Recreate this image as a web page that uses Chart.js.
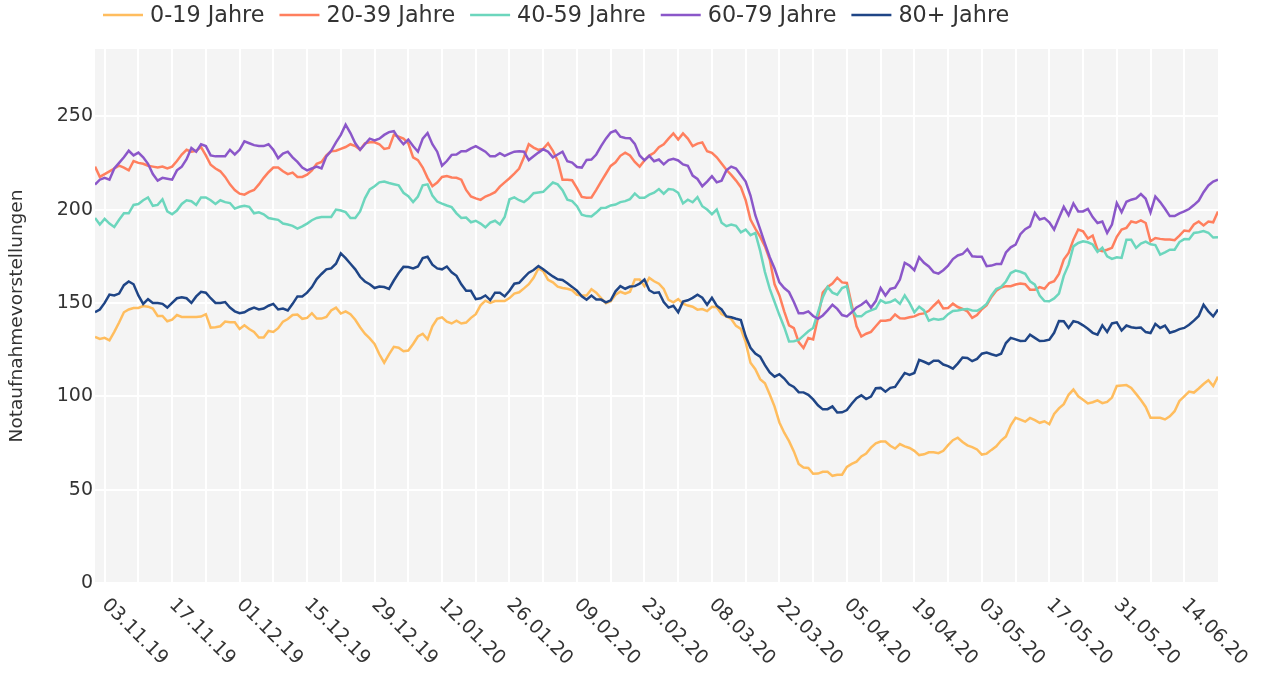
<!DOCTYPE html>
<html><head><meta charset="utf-8">
<script src="https://cdn.jsdelivr.net/npm/chart.js@4.4.1/dist/chart.umd.min.js"></script>
<style>html,body{margin:0;padding:0;background:#fff;}</style>
</head><body>
<canvas id="c" width="1261" height="675"></canvas>
<script>
// ---- data (daily values, first day = 01.11.2019, index 0) ----
const seriesLabels = ['0-19 Jahre','20-39 Jahre','40-59 Jahre','60-79 Jahre','80+ Jahre'];
const seriesColors = ['#ffbd5e','#ff7f5e','#6cd6bd','#8b57c9','#1f4586'];

const jahre0_19 = [131.8,130.7,131.3,130,134.5,139.5,145,146.5,147.3,147.3,
148.3,148,147,143,143,140.2,141,143.5,142.5,142.5,
142.5,142.5,142.7,144,136.8,137,137.5,140,139.6,139.6,
136,138,136,134.5,131.5,131.5,135,134.5,136.5,140,
141.4,143.5,143.8,141.5,142,144.5,141.6,141.6,142.5,146,
147.5,144.3,145.5,144,141,137,133.5,131,128,122.5,
118,122.5,126.5,126,124.1,124.5,128,132,133.5,130.5,
137.5,141.5,142.3,140,139,140.5,139,139.5,142,144,
148.7,151.2,150,151,151,151,152.6,155,155.7,157.8,
160,163.5,168.5,167,162.4,161,158.7,158,157.6,156.8,
154.4,154,154,157.3,155.5,152.6,149.8,150.9,154.4,156,
155,156,162.5,162.5,158.9,163.4,161.6,160.3,157.5,151.6,
150.3,152,149.6,148.6,148,146.4,146.7,145.6,147.9,147.7,
144,142.8,141.4,137.7,136.1,129,118,114.5,109.2,107,
101,94.5,86,80.5,76,70.5,63.7,61.8,61.6,58.5,
58.6,59.6,59.6,57.4,58,58,62.2,63.8,65,67.8,
69.3,72.5,74.8,75.8,75.8,73.5,72,74.4,73.2,72.3,
70.8,68.5,68.9,70,70,69.5,70.8,73.8,76.5,77.8,
75.5,73.7,72.8,71.5,68.8,69.3,71.3,73.2,76.3,78.5,
84.5,88.5,87.5,86.4,
88.4,87.2,85.8,86.6,85,90.5,93.5,95.8,100.8,103.6,
100,98.2,96.2,96.8,97.8,96.3,97,99.3,105.5,105.8,
106,104.5,101.3,98,94.3,88.5,88.5,88.5,87.6,89.3,
92,97.5,100,102.5,102,104.2,106.6,108.6,105.5,110.5];

const jahre20_39 = [223,217.5,219,220.5,222,223.5,222.5,221,226,225,
224.5,223.5,223,222.5,223,222,223,226,229.5,232,
231,231.5,233.5,229,224,222,220.5,217.5,213.5,210.5,
208.5,208,209.5,210.5,213.5,217,220,222.5,222.5,220.5,
219,219.8,217.5,217.5,218.7,221,224.5,225.5,229,231.2,
231.5,232.5,233.5,235,234,232,235.5,236,236,235,
232.5,233,240,239,238,235.5,228,226.5,222.5,217,
212.5,214.5,217.5,218,217.2,217,216,210.5,207,206,
205.2,207,208,209.3,212.3,214.6,216.8,219.3,222,228,
235,233.2,232,232.5,235.5,231.5,226,216,216,215.7,
211.5,206.8,206.3,206.5,210.5,215,219.2,223.4,225.3,228.8,
230.5,229,225.5,223,226.3,228.9,230.4,233.4,235,238,
240.8,237.5,240.8,238,234,235.3,236,231.2,230.4,228,
224.7,221.3,218.6,215.5,212,205,194.6,189.8,185.5,180.3,
173.2,160,154,145.5,138,136.5,129,125.9,131.2,130.5,
142,155.5,158.6,160.4,163.5,161,160.7,149,137.5,132,
133.5,134.5,137.5,140.5,140.5,141,143.8,141.8,141.7,142.3,
142.8,144,144.4,145.8,148.5,151,147,147.3,149.6,147.8,
146.8,145.5,142,143.5,146.6,148.8,153.2,156.5,158.3,159,
159,159.9,160.4,160,
157.1,157.1,158.5,157.6,160.7,161.6,165.5,173.2,176.8,183.9,
189.3,188.4,184.5,186.1,178.5,177.7,178.5,179.5,185.4,189.3,
190.2,193.6,193,194.2,192.8,183,184.8,184.3,184,184,
183.6,186,188.8,188.4,192,193.6,191.5,193.6,193.2,199];

const jahre40_59 = [195.5,192,195,192.5,190.7,194.5,198,198,202.5,203,
205,206.5,202,202.5,205.5,199,197.5,199.5,203,205,
204.5,202.5,206.5,206.5,205,203,205,204,203.5,200.5,
201.5,202,201.5,198,198.5,197.5,195.5,195,194.5,192.5,
192,191.3,189.8,191,192.5,194.3,195.5,196,196,196,
200,199.5,198.6,195.5,195.5,199,206,210.8,212.5,214.6,
215,214.2,213.6,213,209,207.2,204,207,213,213.5,
207.5,204.3,203.2,202.2,201.3,198,195.5,195.7,193.2,194,
192.5,190.5,193,194,192,196,205.5,206.5,205,204,
206,208.8,209.2,209.5,212,214.5,213.5,210.4,205.3,204.5,
201.8,197.2,196.5,196.3,198.4,200.8,201,202.2,202.7,204,
204.5,205.6,208.6,206.3,206.3,208,209,211,208.5,211,
210.7,209,203.3,205.3,203.9,206.7,201.8,200,197.5,200,
193,191.1,192,191.3,187.8,189.3,186.3,187.5,178,166.5,
157.5,150.5,143.5,137,129.4,129.5,130.2,132.5,134.8,136.6,
145,153,158.6,155.5,154.4,158,159,147,142.8,142.8,
145,146,147,151.5,150,150.5,151.8,149.5,154,150,
145,148,146,140.5,141.5,141,141.5,144,145.7,146,
146.5,146.8,146,145.8,147.3,149.5,154,157.5,158.6,161.5,
166,167.3,166.7,165.6,
161.6,159.8,154,151,150.9,152.4,155,164.5,170.5,180.3,
182.1,183,182.5,181.3,177.3,179.6,175,173.6,174.4,174.1,
183.8,183.8,179.5,181.8,182.8,181.4,181,175.9,177.1,178.5,
178.5,182.6,184.2,184.1,187.5,187.9,188.5,187.6,185,185.2];

const jahre60_79 = [213.4,216,217,216,222,225,228,231.5,229,230.5,
228,224.5,219,215.5,217,216.5,216,221,223,227,
233,231,235,234,229,228.5,228.5,228.5,232,229.5,
232,236.5,235.5,234.5,234,234,235,232,227.5,230,
231,228,225.5,222.5,221,222,223,222,228.5,231.5,
236,240,245.5,241,235.5,232,235,238,237,238,
240,241.5,242,238,235,237.5,234,231,238,241,
235,231,223.5,226,229.3,229.5,231.3,231.3,232.8,234,
232.5,231,228.5,228.5,230.2,228.8,230,231,231.2,231,
226.5,228.5,230.5,232.3,231,228,229.5,231,225.9,225.2,
222.8,222.5,226.6,226.8,229.5,234,238,241.3,242.3,239,
238.3,238.2,235.2,229,226.4,228.8,225.9,226.8,224.2,226.5,
227.2,226.3,224.2,223.5,218.2,216.4,212.5,215,217.9,214.6,
215.5,221,223,222,218.5,215,207.5,197,189.5,181.8,
174.5,168.4,161,158,155.8,150.5,144.5,144.5,145.5,143,
141.5,143.3,146,149,146.8,143.5,142.8,145,147.6,149,
151,147.5,151,158,154,157.5,158.2,162.5,171.5,170,
167.5,174.5,171.5,169.5,166.5,165.7,167.5,170,173.5,175.4,
176.2,178.8,175,174.8,174.8,169.7,170,170.8,170.8,177,
179.8,181.2,186.8,189.5,
191,198.2,194.7,195.4,193.2,189.3,195.5,201.5,197,203.3,
199,199,200.4,196,192.8,193.6,187.5,192,203.5,198.6,
204.2,205.3,206,208.3,205.8,198.5,207,204,200.4,196.5,
196.5,198,199,200.3,202.4,204.8,209.3,212.9,215,216];

const jahre80plus = [145,146.5,150,154.5,154,155,159.5,161.5,160,154,
149.5,152,150,150,149.5,147.5,150,152.5,153,152.5,
150,153.5,156,155.5,152.5,150,150,150.5,147.5,145.5,
144.5,145,146.5,147.5,146.5,147,148.5,149.5,146.5,147,
146,149.5,153.5,153.5,155.5,158.5,162.8,165.5,168,168.5,
171,176.5,174,171,168,164,161.5,160,158,158.8,
158.5,157.5,162,166,169.3,169.2,168.5,169.5,174,174.7,
170.5,168.5,168,169.5,166.4,164.5,160,156.5,156.5,152,
152.5,154,151.5,155.5,155.5,153.5,156.5,160.3,160.8,163.6,
166.2,167.6,169.7,168,166,164.2,162.7,162.3,160.5,158.6,
156.6,153.6,151.7,153.9,151.8,151.8,150.3,151.4,156.2,159,
157.6,158.8,159,160.3,162.5,156.8,155.3,155.7,150.5,147.5,
148.5,145,150.7,151.4,152.7,154.4,152.8,149,152.7,148.5,
146.5,142.8,142.3,141.5,140.8,132.1,126,122.9,121.2,116.7,
112.8,110.5,111.8,109.5,106.4,105,102.2,102.1,100.8,98.3,
95.2,93,93.1,94.6,91.3,91.4,92.6,96,99,100.5,
98.5,99.8,104.3,104.5,102.5,104.5,105,108.8,112.5,111.5,
112.5,119.5,118.5,117.3,119,119,117,116.2,114.8,117.5,
120.8,120.5,118.8,120,122.8,123.4,122.5,121.8,122.8,128.5,
131.3,130.5,129.6,129.7,
133,131.3,129.6,129.7,130.3,134,140.3,140.2,136.6,140.2,
139.6,138,136.2,134,133,138,134.5,139,139.6,135.2,
137.9,137,136.6,136.8,134.4,133.9,138.8,136.6,137.9,134,
134.8,136,136.6,138.3,140.5,143,149,145.5,142.8,146.5];

const yTickValues = [0, 50, 100, 150, 200, 250];
const xTickLabels = ['03.11.19','17.11.19','01.12.19','15.12.19','29.12.19','12.01.20','26.01.20','09.02.20','23.02.20','08.03.20','22.03.20','05.04.20','19.04.20','03.05.20','17.05.20','31.05.20','14.06.20'];
const xTickDays = [2,16,30,44,58,72,86,100,114,128,142,156,170,184,198,212,226];
const lastDay = 233;
const yMax = 286;

// ---- chart ----
const allSeries = [jahre0_19, jahre20_39, jahre40_59, jahre60_79, jahre80plus];
const FONT = '"DejaVu Sans", Verdana, sans-serif';
const TXT = '#333333';

const weeklyGrid = [];
for (let d = xTickDays[0]; d <= xTickDays[xTickDays.length-1]; d += 7) weeklyGrid.push(d);

const datasets = allSeries.map((s, k) => ({
  label: seriesLabels[k],
  data: s.map((v, i) => ({x: i, y: v})),
  borderColor: seriesColors[k],
  backgroundColor: seriesColors[k],
  borderWidth: 2.5,
  pointRadius: 0,
  tension: 0,
  fill: false,
  order: allSeries.length - k
}));

const bgPlugin = {
  id: 'plotBg',
  beforeDraw(chart) {
    const {ctx, chartArea: a} = chart;
    ctx.save();
    ctx.fillStyle = '#f4f4f4';
    ctx.fillRect(a.left, a.top, a.right - a.left, a.bottom - a.top);
    ctx.restore();
  }
};

const xLabelPlugin = {
  id: 'xLabels',
  afterDraw(chart) {
    const {ctx, chartArea: a} = chart;
    const xs = chart.scales.x;
    ctx.save();
    ctx.font = '19px ' + FONT;
    ctx.fillStyle = TXT;
    ctx.textAlign = 'left';
    ctx.textBaseline = 'middle';
    xTickDays.forEach((d, k) => {
      const px = xs.getPixelForValue(d);
      ctx.save();
      ctx.translate(px, a.bottom + 19);
      ctx.rotate(Math.PI / 4);
      ctx.fillText(xTickLabels[k], 0, 0);
      ctx.restore();
    });
    ctx.restore();
  }
};

const legendPlugin = {
  id: 'topLegend',
  afterDraw(chart) {
    const ctx = chart.ctx;
    ctx.save();
    ctx.font = '22.3px ' + FONT;
    ctx.textAlign = 'left';
    ctx.textBaseline = 'middle';
    let x = 103;
    const y = 15;
    chart.data.datasets.forEach(ds => {
      ctx.strokeStyle = ds.borderColor;
      ctx.lineWidth = 2.5;
      ctx.beginPath();
      ctx.moveTo(x, y);
      ctx.lineTo(x + 40, y);
      ctx.stroke();
      ctx.fillStyle = TXT;
      ctx.fillText(ds.label, x + 47, y + 1);
      x += 47 + ctx.measureText(ds.label).width + 15;
    });
    ctx.restore();
  }
};

new Chart(document.getElementById('c'), {
  type: 'line',
  data: {datasets},
  options: {
    responsive: false,
    animation: false,
    devicePixelRatio: 1,
    layout: {padding: {top: 49, right: 43, left: 0, bottom: 0}},
    plugins: {legend: {display: false}, tooltip: {enabled: false}},
    scales: {
      x: {
        type: 'linear',
        min: 0,
        max: lastDay,
        afterBuildTicks(scale) { scale.ticks = weeklyGrid.map(v => ({value: v})); },
        afterFit(scale) { scale.height = 675 - 583; },
        grid: {color: '#ffffff', lineWidth: 2, drawTicks: false},
        border: {display: false},
        ticks: {display: false}
      },
      y: {
        type: 'linear',
        min: 0,
        max: yMax,
        afterBuildTicks(scale) { scale.ticks = yTickValues.map(v => ({value: v})); },
        afterFit(scale) { scale.width = 95; },
        grid: {color: '#ffffff', lineWidth: 2, drawTicks: false},
        border: {display: false},
        ticks: {font: {family: FONT, size: 19}, color: TXT, padding: 2},
        title: {display: true, text: 'Notaufnahmevorstellungen', font: {family: FONT, size: 18.5}, color: TXT, padding: {top: 6, bottom: 0}}
      }
    }
  },
  plugins: [bgPlugin, xLabelPlugin, legendPlugin]
});
</script>
</body></html>
